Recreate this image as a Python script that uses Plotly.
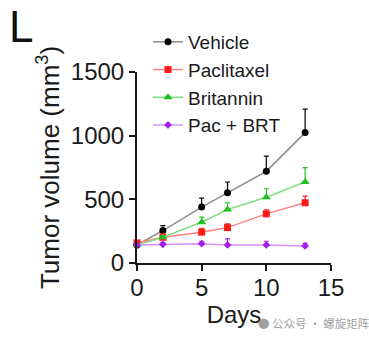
import plotly.graph_objects as go

days = [0, 2, 5, 7, 10, 13]

vehicle = [142, 255, 439, 552, 720, 1024]
vehicle_err = [0, 39, 71, 84, 120, 184]

paclitaxel = [158, 202, 242, 278, 386, 473]
paclitaxel_err = [0, 26, 31, 29, 32, 52]

britannin = [142, 202, 320, 420, 517, 636]
britannin_err = [0, 13, 40, 53, 66, 113]

pac_brt = [142, 147, 152, 142, 142, 134]
pac_brt_err = [0, 16, 19, 47, 29, 21]

series = [
    ("Vehicle", vehicle, vehicle_err, "#000000", "#8c8c8c", "circle", 7),
    ("Paclitaxel", paclitaxel, paclitaxel_err, "#ff1a1a", "#ff8080", "square", 7),
    ("Britannin", britannin, britannin_err, "#1fbf1f", "#80e080", "triangle-up", 8),
    ("Pac + BRT", pac_brt, pac_brt_err, "#a41ee8", "#d890ff", "diamond", 6),
]

W, H = 369, 338
ML, MR, MT, MB = 137, 38, 72, 75
PW, PH = W - ML - MR, H - MT - MB


def px_x(x):
    return (x - ML) / PW


def px_y(y):
    return (H - MB - y) / PH


fig = go.Figure()
for name, vals, err, mcol, lcol, sym, size in series:
    fig.add_trace(go.Scatter(
        x=days, y=vals, name=name, mode="lines+markers",
        line=dict(color=lcol, width=1.5),
        marker=dict(color=mcol, symbol=sym, size=size),
        error_y=dict(type="data", array=err, arrayminus=[0] * len(err),
                     symmetric=False, color=mcol, thickness=1.2, width=2.5),
        cliponaxis=False,
    ))

axis_common = dict(
    showline=True, linecolor="#1a1a1a", linewidth=2,
    ticks="outside", tickcolor="#1a1a1a", ticklen=6, tickwidth=2,
    showgrid=False, zeroline=False,
    tickfont=dict(family="Liberation Sans, Arial", size=24, color="#1a1a1a"),
)

fig.update_layout(
    width=W, height=H,
    margin=dict(l=ML, r=MR, t=MT, b=MB),
    paper_bgcolor="white", plot_bgcolor="white",
    font=dict(family="Liberation Sans, Arial", color="#1a1a1a"),
    xaxis=dict(range=[0, 15], tickvals=[0, 5, 10, 15], ticklabelstandoff=-4, **axis_common,
               title=dict(text="Days", font=dict(size=24), standoff=2)),
    yaxis=dict(range=[0, 1500], tickvals=[0, 500, 1000, 1500], **axis_common,
               title=dict(text="Tumor volume (mm<sup>3</sup>)", font=dict(size=26), standoff=4)),
    legend=dict(x=px_x(148), y=px_y(23), xanchor="left", yanchor="top",
                font=dict(size=19, color="#1a1a1a"), bgcolor="rgba(0,0,0,0)"),
    showlegend=True,
)

fig.add_annotation(text="L", xref="paper", yref="paper", x=px_x(7), y=px_y(26),
                   xanchor="left", yanchor="middle", showarrow=False,
                   font=dict(size=44, color="#111111"))
fig.add_annotation(text="● 公众号 · 螺旋矩阵", xref="paper", yref="paper",
                   x=px_x(256), y=px_y(323), xanchor="left", yanchor="middle",
                   showarrow=False, font=dict(family="Noto Sans CJK SC", size=11.5, color="#a0a0a0"))

fig.write_html("out.html")
